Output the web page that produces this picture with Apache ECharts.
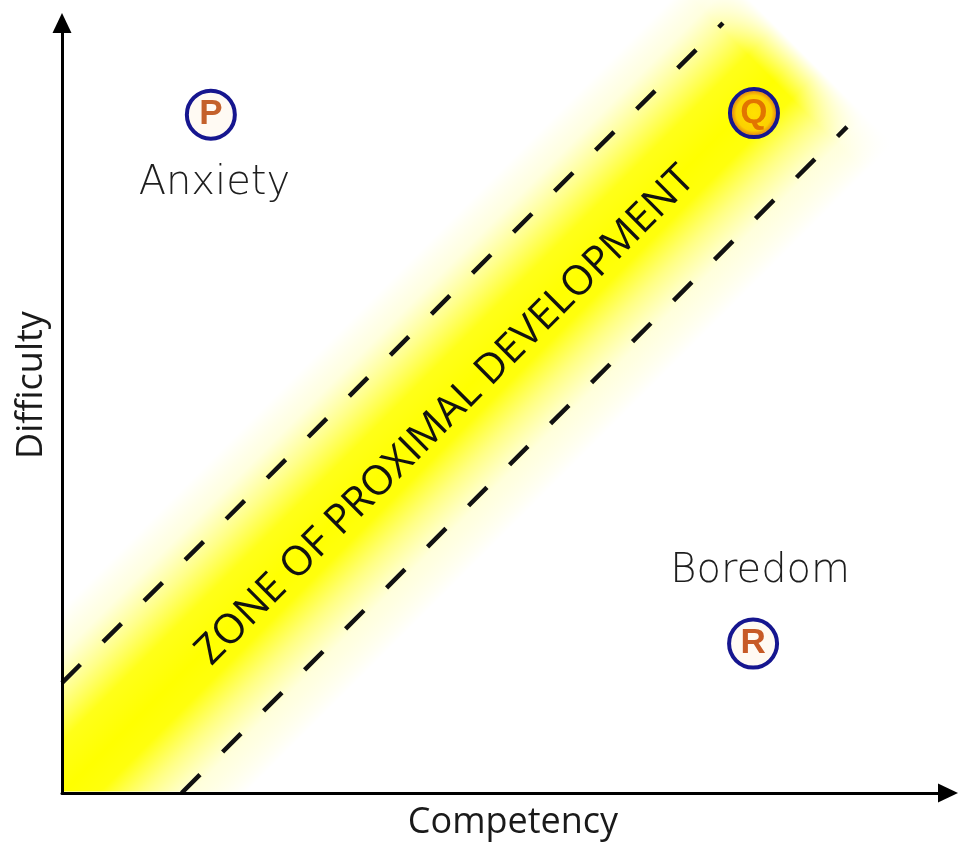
<!DOCTYPE html>
<html><head><meta charset="utf-8">
<script src="https://cdn.jsdelivr.net/npm/echarts@6/dist/echarts.min.js"></script>
<style>html,body{margin:0;padding:0;background:#fff}#c{width:961px;height:844px}</style>
</head><body><div id="c"></div>
<script>
// ---- data (axis units 0..100) ----
const pointNames = ['P', 'Q', 'R'];
const pointX = [16.8, 78.1, 78.0];
const pointY = [88.1, 88.3, 19.4];

const zoneLabels = ['Anxiety', 'Boredom'];
const zoneLabelX = [17.2, 78.8];
const zoneLabelY = [79.2, 28.8];

const upperEdgeX = [0, 74.6];
const upperEdgeY = [14.3, 100];
const lowerEdgeX = [13.5, 88.6];
const lowerEdgeY = [0, 86.5];

const bandX = [0, 83.5];
const bandY = [0, 96.2];
const bandTitle = 'ZONE OF PROXIMAL DEVELOPMENT';
const bandTitleX = 43.3;
const bandTitleY = 49.0;

const xName = 'Competency';
const yName = 'Difficulty';

// ---- helpers ----
function clipHalf(poly, inside, cut) {
  const out = [];
  for (let i = 0; i < poly.length; i++) {
    const p = poly[i], q = poly[(i + 1) % poly.length];
    const pi = inside(p), qi = inside(q);
    if (pi) out.push(p);
    if (pi !== qi) out.push(cut(p, q));
  }
  return out;
}

const chart = echarts.init(document.getElementById('c'), null, {renderer: 'canvas'});

const pointStyles = {
  P: {fill: '#fffaf3', letter: '#c4612c'},
  Q: {fill: new echarts.graphic.RadialGradient(0.5, 0.5, 0.5, [
        {offset: 0, color: '#ffe000'}, {offset: 0.68, color: '#fcd000'},
        {offset: 0.82, color: '#eb980f'}, {offset: 0.93, color: '#f2b43a'}, {offset: 1, color: '#f7e070'}]), letter: '#e27400'},
  R: {fill: '#fffaf3', letter: '#c75a26'}
};

const option = {
  backgroundColor: '#ffffff',
  animation: false,
  grid: {left: 62, right: 13, top: 23, bottom: 51, containLabel: false, outerBoundsMode: 'none'},
  xAxis: {
    type: 'value', min: 0, max: 100, z: 10,
    axisLine: {show: true, onZero: false, lineStyle: {color: '#000', width: 3},
      symbol: ['none', 'triangle'], symbolSize: [19, 20]},
    axisTick: {show: false}, axisLabel: {show: false}, splitLine: {show: false},
    name: xName, nameLocation: 'middle', nameGap: 12,
    nameTextStyle: {fontFamily: 'Open Sans', fontSize: 36, color: '#1a1a1a', padding: [0, 0, 0, 16]}
  },
  yAxis: {
    type: 'value', min: 0, max: 100, z: 10,
    axisLine: {show: true, onZero: false, lineStyle: {color: '#000', width: 3},
      symbol: ['none', 'triangle'], symbolSize: [19, 20]},
    axisTick: {show: false}, axisLabel: {show: false}, splitLine: {show: false},
    name: yName, nameLocation: 'middle', nameGap: 12,
    nameTextStyle: {fontFamily: 'Open Sans', fontSize: 36, color: '#1a1a1a', padding: [0, 0, 0, 46]}
  },
  series: [
    {
      type: 'custom',
      silent: true,
      z: 1,
      clip: false,
      data: [[bandX[0], bandY[0], bandX[1], bandY[1]]],
      renderItem: function (params, api) {
        const a = api.coord([api.value(0), api.value(1)]);
        const b = api.coord([api.value(2), api.value(3)]);
        const dx = b[0] - a[0], dy = b[1] - a[1], L = Math.hypot(dx, dy);
        const ux = dx / L, uy = dy / L;
        const nx = -uy, ny = ux;
        const W = 130, ext = 220;
        const s = [a[0] - ux * ext, a[1] - uy * ext];
        let poly = [
          [s[0] - nx * W, s[1] - ny * W], [b[0] - nx * W, b[1] - ny * W],
          [b[0] + nx * W, b[1] + ny * W], [s[0] + nx * W, s[1] + ny * W]
        ];
        const cs = params.coordSys;
        const left = cs.x + 1.5, bottom = cs.y + cs.height - 1.5;
        poly = clipHalf(poly, p => p[0] >= left, (p, q) => {
          const t = (left - p[0]) / (q[0] - p[0]); return [left, p[1] + t * (q[1] - p[1])];
        });
        poly = clipHalf(poly, p => p[1] <= bottom, (p, q) => {
          const t = (bottom - p[1]) / (q[1] - p[1]); return [p[0] + t * (q[0] - p[0]), bottom];
        });
        const grad = new echarts.graphic.LinearGradient(
          b[0] - nx * W, b[1] - ny * W, b[0] + nx * W, b[1] + ny * W, [
            {offset: 0, color: 'rgba(255,255,0,0)'},
            {offset: 0.12, color: 'rgba(255,255,40,0.15)'},
            {offset: 0.24, color: 'rgba(255,255,20,0.5)'},
            {offset: 0.36, color: 'rgba(255,255,0,0.9)'},
            {offset: 0.5, color: 'rgba(255,255,0,1)'},
            {offset: 0.6, color: 'rgba(255,255,0,0.95)'},
            {offset: 0.72, color: 'rgba(255,255,30,0.55)'},
            {offset: 0.85, color: 'rgba(255,255,60,0.18)'},
            {offset: 1, color: 'rgba(255,255,0,0)'}
          ], true);
        const F = 40, G = 30, WW = W + 10;
        const f0 = [b[0] - ux * F, b[1] - uy * F], f1 = [b[0] + ux * G, b[1] + uy * G];
        const fade = [
          [f0[0] - nx * WW, f0[1] - ny * WW], [f1[0] - nx * WW, f1[1] - ny * WW],
          [f1[0] + nx * WW, f1[1] + ny * WW], [f0[0] + nx * WW, f0[1] + ny * WW]
        ];
        const fadeGrad = new echarts.graphic.LinearGradient(
          f0[0], f0[1], b[0], b[1], [
            {offset: 0, color: 'rgba(255,255,255,0)'},
            {offset: 1, color: 'rgba(255,255,255,1)'}
          ], true);
        return {
          type: 'group',
          children: [
            {type: 'polygon', shape: {points: poly}, style: {fill: grad}},
            {type: 'polygon', shape: {points: fade}, style: {fill: fadeGrad}, z2: 5}
          ]
        };
      }
    },
    {
      type: 'line', z: 5, symbol: 'none', silent: true, clip: false,
      data: upperEdgeX.map((x, i) => [x, upperEdgeY[i]]),
      lineStyle: {color: '#111', width: 4.5, type: [26, 32], cap: 'butt'}
    },
    {
      type: 'line', z: 5, symbol: 'none', silent: true, clip: false,
      data: lowerEdgeX.map((x, i) => [x, lowerEdgeY[i]]),
      lineStyle: {color: '#111', width: 4.5, type: [26, 32], cap: 'butt'}
    },
    {
      type: 'scatter', z: 6, silent: true,
      symbolSize: 1, itemStyle: {color: 'rgba(0,0,0,0)', opacity: 1},
      data: [{value: [bandTitleX, bandTitleY], name: bandTitle}],
      label: {show: true, position: 'inside', rotate: 45, formatter: '{b}',
        fontFamily: 'Open Sans', fontWeight: 500, fontSize: 41, color: '#111'}
    },
    {
      type: 'scatter', z: 6, silent: true,
      symbolSize: 1, itemStyle: {color: 'rgba(0,0,0,0)', opacity: 1},
      data: zoneLabels.map((n, i) => ({value: [zoneLabelX[i], zoneLabelY[i]], name: n})),
      label: {show: true, position: 'inside', formatter: '{b}',
        fontFamily: 'DejaVu Sans', fontWeight: 200, fontSize: 40, color: '#1e1e1e'}
    },
    {
      type: 'scatter', z: 7, silent: true,
      symbol: 'circle', symbolSize: 48,
      itemStyle: {opacity: 1},
      data: pointNames.map((n, i) => ({
        value: [pointX[i], pointY[i]], name: n,
        itemStyle: {color: pointStyles[n].fill, borderColor: '#16168f', borderWidth: 4, opacity: 1},
        label: {color: pointStyles[n].letter}
      })),
      label: {show: true, position: 'inside', formatter: '{b}',
        fontFamily: 'Liberation Sans', fontWeight: 'bold', fontSize: 35}
    }
  ]
};
chart.setOption(option);
</script>
</body></html>
